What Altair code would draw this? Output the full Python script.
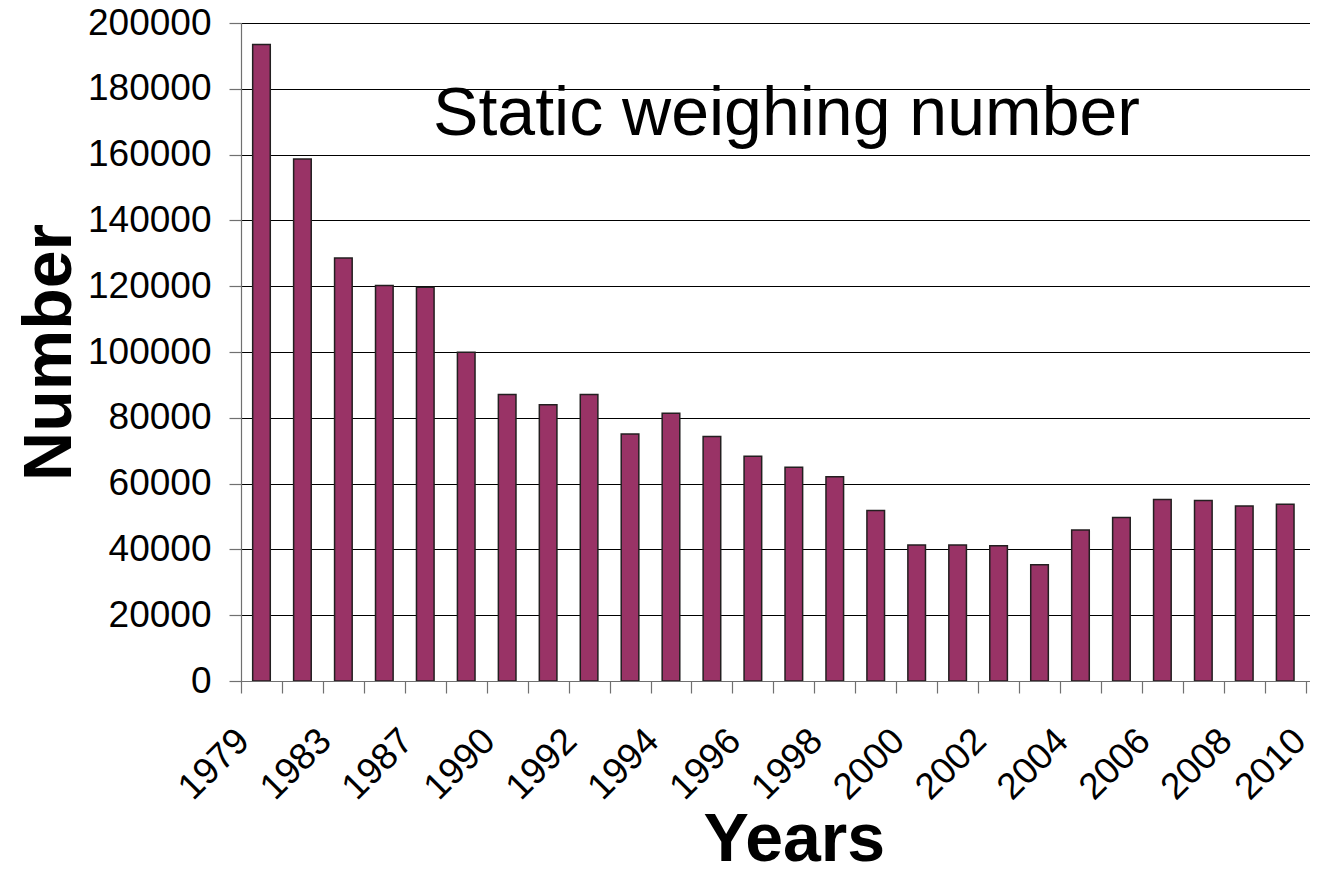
import altair as alt
import pandas as pd

years = ["1979", "1981", "1983", "1985", "1987", "1989", "1990", "1991", "1992",
         "1993", "1994", "1995", "1996", "1997", "1998", "1999", "2000", "2001",
         "2002", "2003", "2004", "2005", "2006", "2007", "2008", "2009", "2010"]
values = [193500, 158700, 128600, 120200, 119700, 99900, 87100, 84000, 87100,
          75100, 81400, 74300, 68300, 65000, 62100, 51800, 41300, 41300,
          41100, 35300, 45900, 49700, 55200, 54900, 53200, 53700, 50600]
labeled_years = years[::2]
y_ticks = list(range(0, 200001, 20000))
chart_title = "Static weighing number"
x_title = "Years"
y_title = "Number"

df = pd.DataFrame({"year": years, "value": values})

FONT = "Liberation Sans, Arial, sans-serif"
STEP = 40.95
N = len(years)
PLOT_W = 1069
PLOT_H = 658
FULL_W = STEP * N

label_list = "[" + ",".join("'" + y + "'" for y in labeled_years) + "]"
last_year = years[-1]

x_enc = alt.X(
    "year:O",
    sort=None,
    scale=alt.Scale(range=[0, FULL_W], paddingInner=0.57, paddingOuter=0.285),
    axis=alt.Axis(
        title=x_title,
        titleFont=FONT,
        titleFontSize=68,
        titleFontWeight="bold",
        titleColor="black",
        titleX=FULL_W / 2,
        titleY=179,
        titleAlign="center",
        titleBaseline="alphabetic",
        titleAngle=0,
        labelFont=FONT,
        labelFontSize=37,
        labelColor="black",
        labelAngle=315,
        labelAlign="right",
        labelBaseline="middle",
        labelPadding=42,
        labelOffset={"condition": {"test": "datum.value == '" + last_year + "'", "value": -6}, "value": 2},
        labelOverlap=False,
        labelBound=False,
        labelFlush=False,
        labelExpr="indexof(" + label_list + ", datum.value) >= 0 ? datum.label : ''",
        tickOffset=-STEP / 2,
        tickSize=12,
        tickColor="#707070",
        tickWidth=1.2,
        domainColor="#707070",
        domainWidth=1.2,
        grid=False,
    ),
)

y_enc = alt.Y(
    "value:Q",
    scale=alt.Scale(domain=[0, 200000], nice=False, zero=True),
    axis=alt.Axis(
        title=y_title,
        titleFont=FONT,
        titleFontSize=68,
        titleFontWeight="bold",
        titleColor="black",
        titleAngle=270,
        titleX=-171,
        titleY=PLOT_H / 2,
        titleAlign="center",
        titleBaseline="alphabetic",
        values=y_ticks,
        format="d",
        labelFont=FONT,
        labelFontSize=37,
        labelColor="black",
        labelPadding=18,
        labelBaseline="middle",
        tickSize=12,
        tickColor="#707070",
        tickWidth=1.2,
        domainColor="#707070",
        domainWidth=1.2,
        grid=True,
        gridColor="black",
        gridWidth=1,
        gridOpacity=1,
    ),
)

bars = alt.Chart(df).mark_bar(
    color="#993366",
    stroke="#231f20",
    strokeWidth=1.5,
    clip=True,
).encode(x=x_enc, y=y_enc)

title_text = alt.Chart(alt.Data(values=[{"t": chart_title}])).mark_text(
    font=FONT,
    fontSize=68,
    color="black",
    align="center",
    baseline="alphabetic",
).encode(
    text="t:N",
    x=alt.value(545.5),
    y=alt.value(112),
)

chart = alt.layer(bars, title_text).properties(
    width=PLOT_W,
    height=PLOT_H,
    autosize=alt.AutoSizeParams(type="none"),
    padding={"left": 233, "top": 15, "right": 0, "bottom": 182},
    background="white",
).configure_view(stroke=None)

chart.save("out.html", embed_options={"renderer": "svg", "actions": False})
